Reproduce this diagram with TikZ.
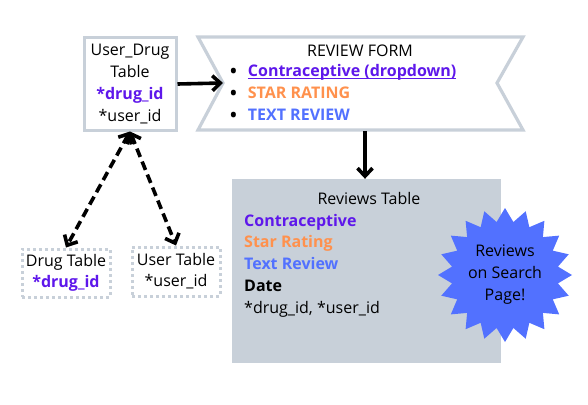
\documentclass[tikz,border=0pt]{standalone}
\usepackage{fontspec}
\setmainfont{Open Sans}
\usetikzlibrary{arrows.meta,shapes.geometric,positioning}
\definecolor{boxgray}{HTML}{C8D0D9}
\definecolor{idpurple}{HTML}{5E17EB}
\definecolor{rateorange}{HTML}{FF914D}
\definecolor{revblue}{HTML}{5271FF}
\newcommand\formdot{\raisebox{-2.4pt}{\scalebox{1.45}{\textbullet}}\hspace{10pt}}
\newcommand\formline[1]{\setbox0\hbox{#1}\rlap{\rule[-2.2pt]{\wd0}{1.3pt}}\box0}
\tikzset{
  tablebox/.style={draw=boxgray, line width=3pt, fill=white, align=center, inner sep=2pt},
  dashbox/.style={draw=boxgray, line width=3pt, dash pattern=on 3pt off 3pt, align=center, inner sep=2pt},
  link/.style={line width=3.6pt, -{Straight Barb[length=8pt,width=15pt]}},
  dlink/.style={line width=3.6pt, dash pattern=on 9pt off 5pt,
    {Straight Barb[length=8pt,width=15pt]}-{Straight Barb[length=8pt,width=15pt]}},
}
\begin{document}
\begin{tikzpicture}[x=1pt,y=-1pt,font=\fontsize{16}{22}\selectfont]
\useasboundingbox (0,0) rectangle (588,404);

% user_drug table
\node[tablebox, minimum width=92pt, minimum height=92pt] (userdrug) at (130,84)
  {User\_Drug\\Table\\\textbf{\color{idpurple}*drug\_id}\\*user\_id};

% review form banner
\draw[boxgray, line width=3.2pt, fill=white]
  (198,37) -- (523,37) -- (497,83) -- (523,130) -- (198,130) -- (223,83) -- cycle;
\coordinate (formin) at (223,83);
\coordinate (formout) at (365,131);
\node (formtitle) at (360,51) {REVIEW FORM};
\node[anchor=west, align=left, inner sep=0pt] (formlist) at (229,94)
  {\formdot\textbf{\color{idpurple}\formline{Contraceptive (dropdown)}}\\
   \formdot\textbf{\color{rateorange}STAR RATING}\\
   \formdot\textbf{\color{revblue}TEXT REVIEW}};

% reviews table
\node[fill=boxgray, minimum width=269pt, minimum height=184pt] (reviews) at (366.5,271) {};
\node (revtitle) at (369,198) {Reviews Table};
\node[anchor=west, align=left, inner sep=0pt, font=\fontsize{16}{21.7}\selectfont] (revlist) at (244,265.5)
  {\textbf{\color{idpurple}Contraceptive}\\
   \textbf{\color{rateorange}Star Rating}\\
   \textbf{\color{revblue}Text Review}\\
   \textbf{Date}\\
   *drug\_id, *user\_id};

\node[star, star points=20, star point ratio=1.25, fill=revblue, minimum size=134pt,
  align=center, inner sep=0pt] (burst) at (505,275) {Reviews\\on Search\\Page!};

% drug and user tables
\node[dashbox, minimum width=88pt, minimum height=48pt, font=\fontsize{16}{21}\selectfont] (drugtbl) at (66,273)
  {Drug Table\\\textbf{\color{idpurple}*drug\_id}};
\node[dashbox, minimum width=88pt, minimum height=49pt, font=\fontsize{16}{21}\selectfont] (usertbl) at (176,271.5)
  {User Table\\*user\_id};

% connectors
\draw[link] (userdrug.east) -- (formin);
\draw[link] (formout) -- (formout |- reviews.north);
\draw[dlink] (userdrug.south) -- (drugtbl.north);
\draw[dlink] (userdrug.south) -- (usertbl.north);
\end{tikzpicture}
\end{document}
